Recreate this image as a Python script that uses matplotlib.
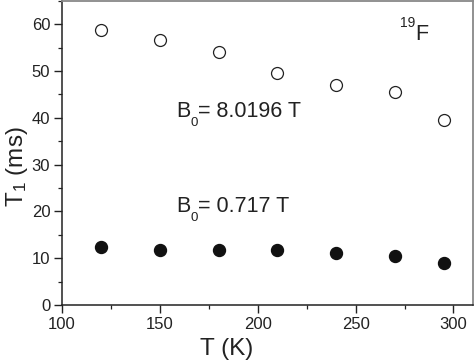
import matplotlib
matplotlib.use("Agg")
import matplotlib.pyplot as plt
from matplotlib.ticker import MultipleLocator
from matplotlib.transforms import offset_copy

plt.rcParams['font.family'] = ['Liberation Sans', 'DejaVu Sans']
plt.rcParams['mathtext.fontset'] = 'custom'
plt.rcParams['mathtext.rm'] = 'Liberation Sans'
plt.rcParams['mathtext.it'] = 'Liberation Sans'

T = [120, 150, 180, 210, 240, 270, 295]
T1_high = [58.7, 56.7, 54.1, 49.5, 47.0, 45.5, 39.6]   # B0 = 8.0196 T
T1_low = [12.4, 11.8, 11.7, 11.7, 11.2, 10.5, 8.9]     # B0 = 0.717 T

INK = '#222222'

fig = plt.figure(figsize=(4.74, 3.63), dpi=100)
ax = fig.add_axes([0.131, 0.160, 0.867, 0.838])

ax.plot(T, T1_high, linestyle='none', marker='o', markersize=8.6,
        markerfacecolor='white', markeredgecolor=INK, markeredgewidth=0.9)
ax.plot(T, T1_low, linestyle='none', marker='o', markersize=8.6,
        markerfacecolor='#111111', markeredgecolor='#111111')

ax.set_xlim(100, 310)
ax.set_ylim(0, 65)
ax.xaxis.set_major_locator(MultipleLocator(50))
ax.xaxis.set_minor_locator(MultipleLocator(25))
ax.yaxis.set_major_locator(MultipleLocator(10))
ax.yaxis.set_minor_locator(MultipleLocator(5))

ax.tick_params(which='major', direction='out', length=5.5, width=1.0,
               labelsize=12, colors=INK, pad=3)
ax.tick_params(which='minor', direction='out', length=3, width=0.9, colors=INK)

for s in ['left', 'bottom']:
    ax.spines[s].set_color(INK)
    ax.spines[s].set_linewidth(1.1)
for s in ['top', 'right']:
    ax.spines[s].set_color('#888888')
    ax.spines[s].set_linewidth(1.3)

ax.set_xlabel('T (K)', fontsize=17.5, color=INK)
ax.xaxis.set_label_coords(0.40, -0.108)
ax.set_ylabel(r'T$_1$ (ms)', fontsize=17.5, color=INK)
ax.yaxis.set_label_coords(-0.078, 0.456)

fig.canvas.draw()
renderer = fig.canvas.get_renderer()


def subscript_label(x, y, main, sub, rest, size):
    t1 = ax.text(x, y, main, fontsize=size, color=INK)
    w1 = t1.get_window_extent(renderer).width * 72 / fig.dpi
    tr = offset_copy(ax.transData, fig=fig, x=w1 + 0.3, y=-size * 0.42, units='points')
    t2 = ax.text(x, y, sub, fontsize=size * 0.62, color=INK, transform=tr)
    w2 = t2.get_window_extent(renderer).width * 72 / fig.dpi
    tr3 = offset_copy(ax.transData, fig=fig, x=w1 + w2 + 0.3, y=0, units='points')
    ax.text(x, y, rest, fontsize=size, color=INK, transform=tr3)


subscript_label(158.3, 40.2, 'B', '0', '= 8.0196 T', 15.5)
subscript_label(158.3, 19.9, 'B', '0', '= 0.717 T', 15.5)

tF = ax.text(272.5, 59.3, '19', fontsize=10, color=INK)
wF = tF.get_window_extent(renderer).width * 72 / fig.dpi
ax.text(272.5, 56.6, 'F', fontsize=15.5, color=INK,
        transform=offset_copy(ax.transData, fig=fig, x=wF, y=0, units='points'))

fig.savefig('out.png', dpi=100)
